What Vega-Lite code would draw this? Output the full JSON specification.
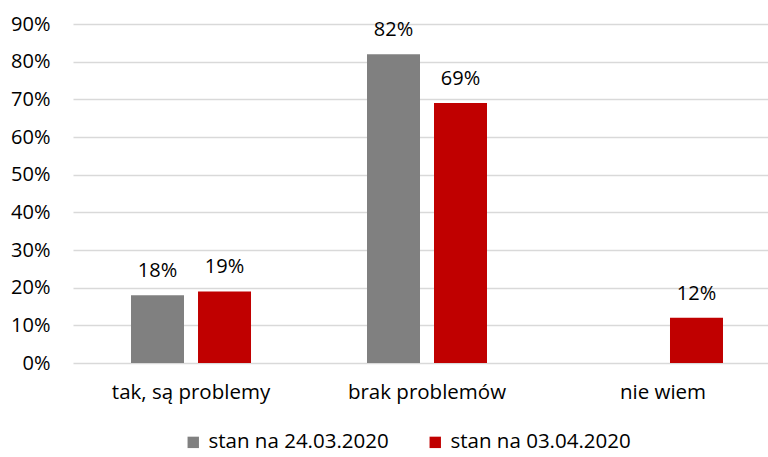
{
  "$schema": "https://vega.github.io/schema/vega-lite/v6.json",
  "width": 695,
  "height": 339,
  "autosize": {"type": "none"},
  "padding": {"left": 73, "top": 24, "right": 0, "bottom": 94},
  "background": "white",
  "config": {
    "view": {"stroke": null},
    "font": "Open Sans",
    "text": {"font": "Open Sans"}
  },
  "data": {
    "values": [
      {"kategoria": "tak, są problemy", "seria": "stan na 24.03.2020", "wartosc": 0.18},
      {"kategoria": "tak, są problemy", "seria": "stan na 03.04.2020", "wartosc": 0.19},
      {"kategoria": "brak problemów", "seria": "stan na 24.03.2020", "wartosc": 0.82},
      {"kategoria": "brak problemów", "seria": "stan na 03.04.2020", "wartosc": 0.69},
      {"kategoria": "nie wiem", "seria": "stan na 03.04.2020", "wartosc": 0.12}
    ]
  },
  "encoding": {
    "x": {
      "field": "kategoria",
      "type": "nominal",
      "sort": ["tak, są problemy", "brak problemów", "nie wiem"],
      "scale": {"range": [0, 708], "paddingInner": 0.4915, "paddingOuter": 0.2458},
      "axis": {
        "title": null,
        "labelAngle": 0,
        "domain": false,
        "ticks": false,
        "labelPadding": 19,
        "labelFontSize": 20.5,
        "labelColor": "#000000",
        "labelFont": "Open Sans"
      }
    },
    "xOffset": {
      "field": "seria",
      "type": "nominal",
      "sort": ["stan na 24.03.2020", "stan na 03.04.2020"],
      "scale": {"paddingInner": 0.209, "paddingOuter": 0}
    },
    "y": {
      "field": "wartosc",
      "type": "quantitative",
      "scale": {"domain": [0, 0.9], "nice": false},
      "axis": {
        "title": null,
        "format": ".0%",
        "values": [0, 0.1, 0.2, 0.3, 0.4, 0.5, 0.6, 0.7, 0.8, 0.9],
        "domain": false,
        "ticks": false,
        "labelPadding": 23,
        "labelFontSize": 20,
        "labelColor": "#000000",
        "labelFont": "Open Sans",
        "gridColor": "#d9d9d9",
        "gridWidth": 1.3
      }
    }
  },
  "layer": [
    {
      "mark": {"type": "bar"},
      "encoding": {
        "color": {
          "field": "seria",
          "type": "nominal",
          "sort": ["stan na 24.03.2020", "stan na 03.04.2020"],
          "scale": {"domain": ["stan na 24.03.2020", "stan na 03.04.2020"], "range": ["#808080", "#C00000"]},
          "legend": {
            "title": null,
            "orient": "none",
            "legendX": 110,
            "legendY": 408,
            "direction": "horizontal",
            "symbolType": "square",
            "symbolSize": 130,
            "symbolStrokeWidth": 0,
            "symbolOpacity": 1,
            "labelFontSize": 20.5,
            "labelLimit": 400,
            "labelFont": "Open Sans",
            "labelColor": "#000000",
            "labelOffset": 5,
            "columnPadding": 36
          }
        }
      }
    },
    {
      "mark": {"type": "text", "baseline": "alphabetic", "dy": -18, "fontSize": 20, "color": "#000000", "font": "Open Sans"},
      "encoding": {
        "text": {"field": "wartosc", "type": "quantitative", "format": ".0%"}
      }
    }
  ]
}
